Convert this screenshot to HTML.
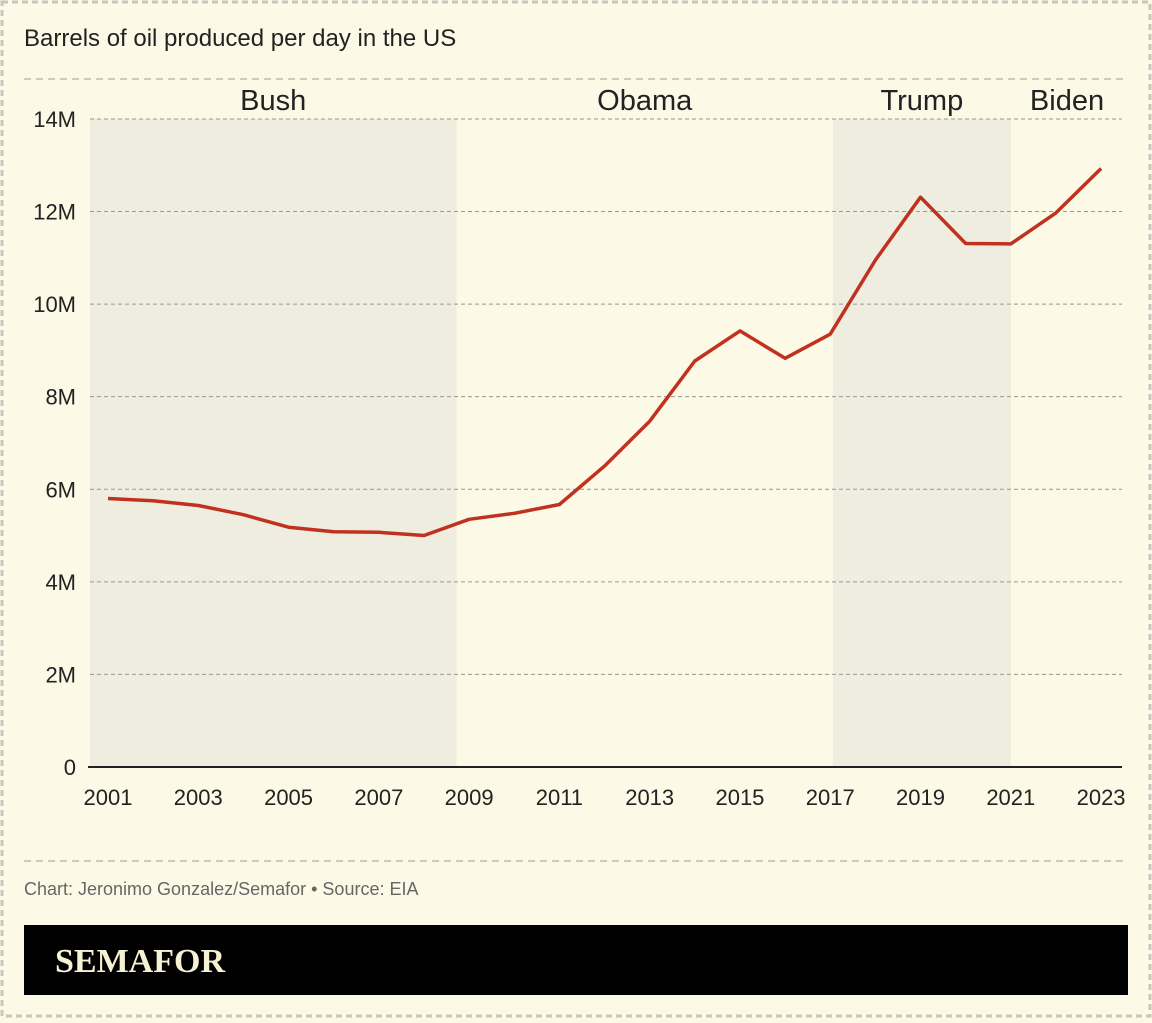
<!DOCTYPE html>
<html><head><meta charset="utf-8"><style>
html,body{margin:0;padding:0;background:#fcf9e6;}
body{width:1152px;height:1018px;overflow:hidden;font-family:"Liberation Sans",sans-serif;}
</style></head><body>
<svg id="chart" width="1152" height="1018" xmlns="http://www.w3.org/2000/svg" font-family="Liberation Sans, sans-serif">
<rect x="2" y="2" width="1148" height="1014" fill="#fcf9e6" stroke="#c9c7bd" stroke-width="3" stroke-dasharray="6 4"/>
<text x="24" y="46" font-size="24" fill="#222">Barrels of oil produced per day in the US</text>
<line x1="24" y1="79" x2="1128" y2="79" stroke="#bdbbb2" stroke-width="1.5" stroke-dasharray="7 5"/>
<g id="shading"></g>
<g id="grid"></g>
<g id="xaxis"></g>
<g id="series"></g>
<line x1="24" y1="861" x2="1128" y2="861" stroke="#bdbbb2" stroke-width="1.5" stroke-dasharray="7 5"/>
<text x="24" y="895" font-size="18" fill="#666">Chart: Jeronimo Gonzalez/Semafor • Source: EIA</text>
<rect x="24" y="925" width="1104" height="70" fill="#000"/>
<text x="55" y="972" font-size="34" font-weight="bold" fill="#f6f1d3" font-family="Liberation Serif, serif">SEMAFOR</text>
</svg>
<script>
const years=[2001,2002,2003,2004,2005,2006,2007,2008,2009,2010,2011,2012,2013,2014,2015,2016,2017,2018,2019,2020,2021,2022,2023];
const production=[5.80,5.75,5.65,5.45,5.18,5.08,5.07,5.00,5.35,5.48,5.67,6.50,7.47,8.77,9.42,8.83,9.35,10.95,12.31,11.31,11.30,11.97,12.93];
const yTicks=[0,2,4,6,8,10,12,14];
const yTickLabels=["0","2M","4M","6M","8M","10M","12M","14M"];
const xTicks=[2001,2003,2005,2007,2009,2011,2013,2015,2017,2019,2021,2023];
const presidents=["Bush","Obama","Trump","Biden"];
const termStarts=[2000.6,2008.72,2017.06,2021.0];
const termEnds=[2008.72,2017.06,2021.0,2023.5];
const shaded=[true,false,true,false];

const NS="http://www.w3.org/2000/svg";
const x=v=>108+(v-2001)*45.14;
const y=v=>767-v*46.29;
function mk(tag,attrs,parent,text){const e=document.createElementNS(NS,tag);for(const k in attrs)e.setAttribute(k,attrs[k]);if(text!==undefined)e.textContent=text;parent.appendChild(e);return e;}
const gS=document.getElementById('shading'),gG=document.getElementById('grid'),gX=document.getElementById('xaxis'),gL=document.getElementById('series');

presidents.forEach((p,i)=>{
  const x0=Math.max(90,x(termStarts[i])),x1=Math.min(1122,x(termEnds[i]));
  if(shaded[i]){const r=mk('rect',{x:x0,y:y(14),width:x1-x0,height:y(0)-y(14),fill:'#efede0'},gS);
    
    }
  let cx=(x0+x1)/2; if(i===3) cx=1067;
  const t=mk('text',{x:cx,y:110,'font-size':29,fill:'#222','text-anchor':'middle'},gS,p);
  
  
});
yTicks.forEach((v,i)=>{
  if(v>0){const l=mk('line',{x1:90,x2:1122,y1:y(v),y2:y(v),stroke:'#9a988f','stroke-width':1,'stroke-dasharray':'4 3'},gG);
    
    }
  const t=mk('text',{x:76,y:y(v)+8,'font-size':22,fill:'#222','text-anchor':'end'},gG,yTickLabels[i]);
  
  
});
const ax=mk('line',{x1:88,x2:1122,y1:y(0),y2:y(0),stroke:'#222','stroke-width':2},gX);


xTicks.forEach(v=>{
  const t=mk('text',{x:x(v),y:805,'font-size':22,fill:'#222','text-anchor':'middle'},gX,String(v));
  
  
});
const d=years.map((yr,i)=>(i?'L':'M')+x(yr).toFixed(1)+','+y(production[i]).toFixed(1)).join(' ');
const path=mk('path',{d:d,fill:'none',stroke:'#c0321f','stroke-width':3.5,'stroke-linejoin':'round'},gL);


</script>
</body></html>
